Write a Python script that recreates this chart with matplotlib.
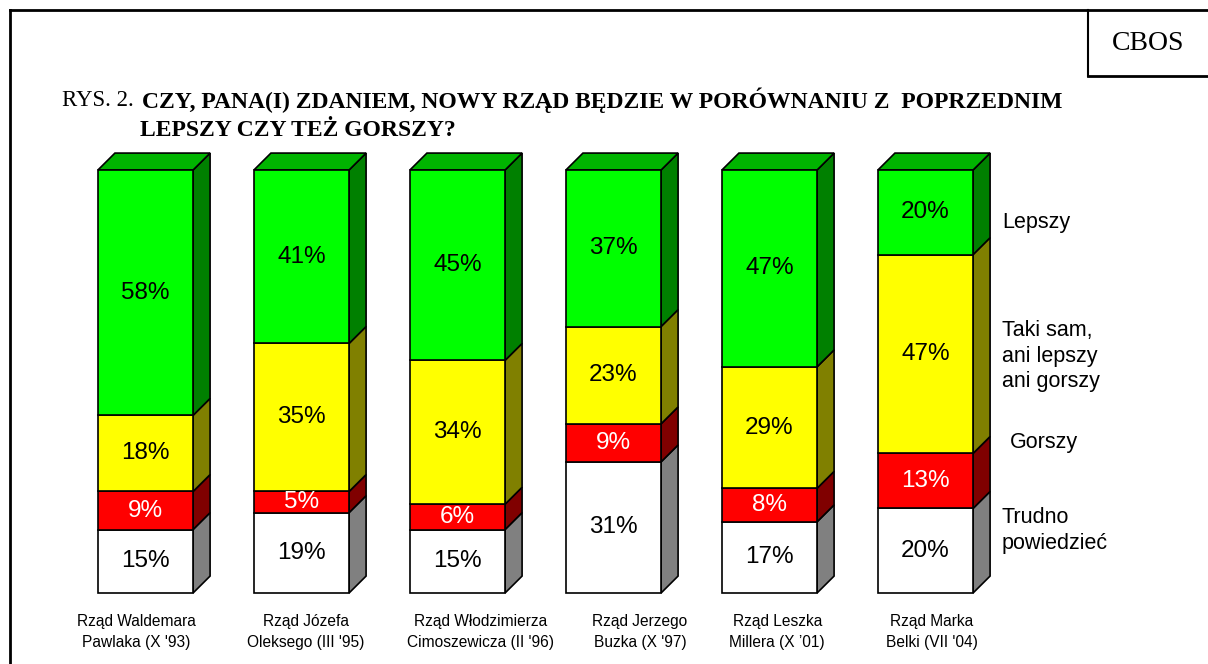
import matplotlib.pyplot as plt
from matplotlib.patches import Polygon, Rectangle
from matplotlib.lines import Line2D

# data
categories = ["Rząd Waldemara\nPawlaka (X '93)", "Rząd Józefa\nOleksego (III '95)",
              "Rząd Włodzimierza\nCimoszewicza (II '96)", "Rząd Jerzego\nBuzka (X '97)",
              "Rząd Leszka\nMillera (X ’01)", "Rząd Marka\nBelki (VII '04)"]
trudno = [15, 19, 15, 31, 17, 20]
gorszy = [9, 5, 6, 9, 8, 13]
taki_sam = [18, 35, 34, 23, 29, 47]
lepszy = [58, 41, 45, 37, 47, 20]

series = [trudno, gorszy, taki_sam, lepszy]
front_cols = ['#FFFFFF', '#FF0000', '#FFFF00', '#00FF00']
side_cols = ['#808080', '#800000', '#808000', '#008000']
top_col = '#00B400'
text_cols = ['black', 'white', 'black', 'black']
legend_names = ['Trudno\npowiedzieć', 'Gorszy', 'Taki sam,\nani lepszy\nani gorszy', 'Lepszy']
legend_pos = [(5.49, 14.7), (5.54, 35.5), (5.49, 56.0), (5.49, 87.7)]
label_nudge = [-0.06, 0.03, 0.15, 0.17, 0.05, 0.04]

plt.rcParams['font.family'] = ['Liberation Sans', 'DejaVu Sans']

fig = plt.figure(figsize=(12.08, 6.64), dpi=100)
ax = fig.add_axes([67.5 / 1208, 71 / 664, 936 / 1208, 423 / 664])
ax.set_xlim(-0.5, 5.5)
ax.set_ylim(0, 100)
ax.axis('off')

w = 0.61
dx, dy = 0.109, 4.0

for i in range(len(categories)):
    total = sum(s[i] for s in series)
    bottom = 0
    for k, s in enumerate(series):
        h = s[i] * 100 / total
        x0, x1 = i - w / 2, i + w / 2
        ax.add_patch(Rectangle((x0, bottom), w, h, facecolor=front_cols[k],
                               edgecolor='black', lw=1.2, clip_on=False, zorder=3))
        ax.add_patch(Polygon([(x1, bottom), (x1 + dx, bottom + dy), (x1 + dx, bottom + h + dy),
                              (x1, bottom + h)], closed=True, facecolor=side_cols[k],
                             edgecolor='black', lw=1.2, clip_on=False, zorder=2))
        ax.text(i, bottom + h / 2, f'{s[i]}%', ha='center', va='center', fontsize=17.5,
                color=text_cols[k], zorder=4)
        bottom += h
    ax.add_patch(Polygon([(i - w / 2, bottom), (i - w / 2 + dx, bottom + dy),
                          (i + w / 2 + dx, bottom + dy), (i + w / 2, bottom)], closed=True,
                         facecolor=top_col, edgecolor='black', lw=1.2, clip_on=False, zorder=2))
    ax.text(i + label_nudge[i], -5, categories[i], ha='center', va='top', fontsize=11.2,
            linespacing=1.5)

for name, (lx, ly) in zip(legend_names, legend_pos):
    ax.text(lx, ly, name, ha='left', va='center', fontsize=15.5, linespacing=1.3)

# frame and CBOS box
fig.add_artist(Line2D([10 / 1208, 10 / 1208], [0, 1 - 10 / 664], color='black', lw=2))
fig.add_artist(Line2D([10 / 1208, 1], [1 - 10 / 664, 1 - 10 / 664], color='black', lw=2))
fig.add_artist(Line2D([1088 / 1208, 1088 / 1208], [1 - 10 / 664, 1 - 76 / 664], color='black', lw=1.5))
fig.add_artist(Line2D([1088 / 1208, 1], [1 - 76 / 664, 1 - 76 / 664], color='black', lw=2))
fig.text(1148 / 1208, 1 - 43 / 664, 'CBOS', ha='center', va='center', fontsize=20,
         family='Liberation Serif')

fig.text(62 / 1208, 1 - 100 / 664, 'RYS. 2. ', ha='left', va='center', fontsize=16.5,
         family='Liberation Serif')
fig.text(142 / 1208, 1 - 100 / 664, 'CZY, PANA(I) ZDANIEM, NOWY RZĄD BĘDZIE W PORÓWNANIU Z  POPRZEDNIM',
         ha='left', va='center', fontsize=17, family='Liberation Serif', weight='bold')
fig.text(140 / 1208, 1 - 130 / 664, 'LEPSZY CZY TEŻ GORSZY?', ha='left', va='center',
         fontsize=17, family='Liberation Serif', weight='bold')

fig.savefig('out.png', dpi=100)
